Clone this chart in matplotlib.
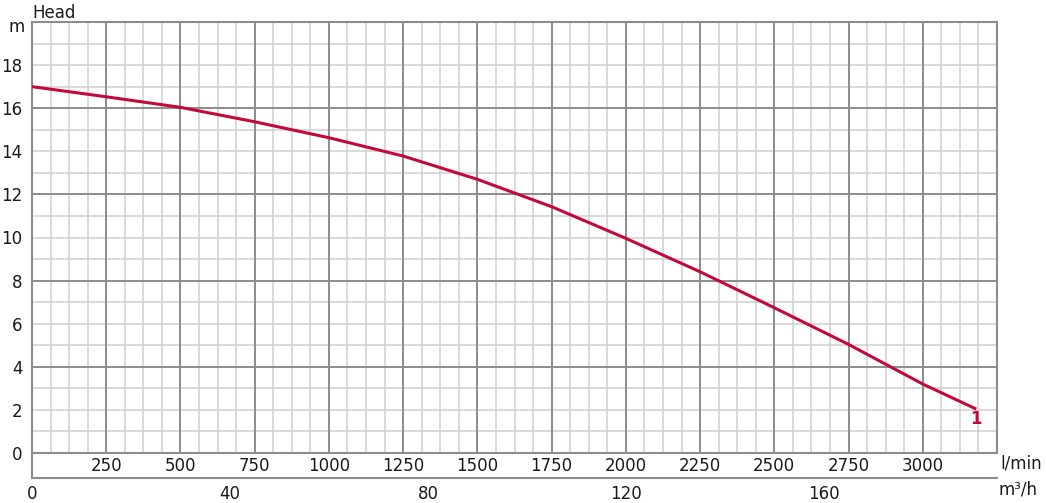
import matplotlib
matplotlib.use("Agg")
import matplotlib.pyplot as plt
from matplotlib.lines import Line2D
import numpy as np

plt.rcParams["font.family"] = ["DejaVu Sans"]

# Data
flow_lmin = [0, 250, 500, 750, 1000, 1250, 1500, 1750, 2000, 2250, 2500, 2750, 3000, 3180]
head_m = [17.0, 16.53, 16.04, 15.37, 14.63, 13.78, 12.70, 11.43, 9.96, 8.41, 6.74, 5.04, 3.20, 2.04]
x_ticks_lmin = [250, 500, 750, 1000, 1250, 1500, 1750, 2000, 2250, 2500, 2750, 3000]
x_ticks_m3h = [0, 40, 80, 120, 160]
y_ticks = [0, 2, 4, 6, 8, 10, 12, 14, 16, 18]
curve_label = "1"

W, H = 1046, 503
fig = plt.figure(figsize=(W / 100, H / 100), dpi=100)
L, R, B, T = 32, 997, 453, 22
ax = fig.add_axes([L / W, (H - B) / H, (R - L) / W, (B - T) / H])
ax.set_xlim(0, 3250)
ax.set_ylim(0, 20)

txt = "#1a1a1a"
minor_c = "#cfcfcf"
major_c = "#8c8c8c"
fs = 12

# grid
for xv in np.arange(62.5, 3250, 62.5):
    major = abs(xv / 250 - round(xv / 250)) < 1e-9
    ax.axvline(xv, color=major_c if major else minor_c, lw=1.4 if major else 1.1,
               zorder=2 if major else 1)
for yv in range(1, 20):
    major = yv % 4 == 0
    ax.axhline(yv, color=major_c if major else minor_c, lw=1.4 if major else 1.1,
               zorder=2 if major else 1)

for s in ax.spines.values():
    s.set_color(major_c)
    s.set_linewidth(1.5)

# curve
red = "#c4093a"
ax.plot(flow_lmin, head_m, color=red, lw=2.2, zorder=5, solid_capstyle="butt",
        solid_joinstyle="round")
ax.annotate(curve_label, (flow_lmin[-1], head_m[-1]), xytext=(0, -7), textcoords="offset points",
            ha="center", va="center", color=red, fontsize=12, fontweight="bold", zorder=6)

# y ticks
ax.set_yticks(y_ticks)
ax.set_yticklabels([str(v) for v in y_ticks])
ax.tick_params(axis="y", length=0, pad=7, labelsize=fs, labelcolor=txt)
ax.annotate("m", (0, 20), xytext=(-7, -5), textcoords="offset pixels", ha="right", va="center",
            fontsize=fs, color=txt, annotation_clip=False)
ax.text(0, 1.0, "Head", transform=ax.transAxes, ha="left", va="bottom", fontsize=fs, color=txt)

# x ticks (l/min)
ax.set_xticks(x_ticks_lmin)
ax.set_xticklabels([str(v) for v in x_ticks_lmin])
ax.tick_params(axis="x", length=0, pad=3, labelsize=fs, labelcolor=txt)

# secondary axis m3/h
off = -25 / (B - T)
sec = ax.secondary_xaxis(off, functions=(lambda x: x * 0.06, lambda x: x / 0.06))
sec.set_xticks(x_ticks_m3h)
sec.set_xticklabels([str(v) for v in x_ticks_m3h])
sec.tick_params(axis="x", length=0, pad=5, labelsize=fs, labelcolor=txt)
sec.spines["bottom"].set_color(major_c)
sec.spines["bottom"].set_linewidth(1.5)

ax.add_line(Line2D([0, 0], [off, 0], transform=ax.transAxes, color=major_c, lw=1.5, clip_on=False))

# unit labels
fig.text(1000 / W, 1 - 463 / H, "l/min", ha="left", va="center", fontsize=fs, color=txt)
fig.text(998 / W, 1 - 490 / H, "m³/h", ha="left", va="center", fontsize=fs, color=txt)

fig.savefig("out.png", dpi=100)
